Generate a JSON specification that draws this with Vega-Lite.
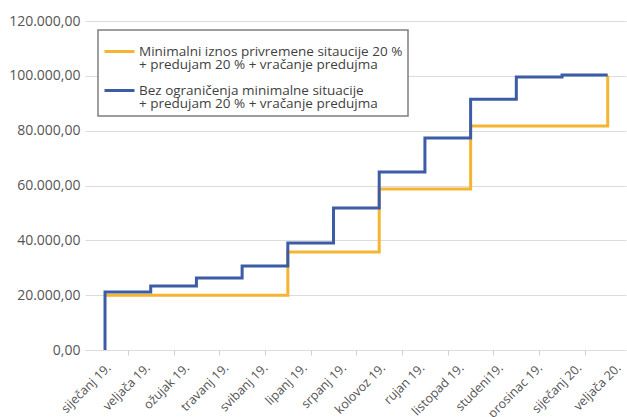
{
  "$schema": "https://vega.github.io/schema/vega-lite/v6.json",
  "width": 541,
  "height": 329,
  "autosize": {"type": "none"},
  "padding": {"left": 85, "top": 21, "right": 1, "bottom": 67},
  "config": {"view": {"stroke": null}, "font": "Open Sans"},
  "datasets": {
    "steps": [
      {"series": "Minimalni iznos privremene sitaucije 20 %|+ predujam 20 % + vračanje predujma", "i": 0, "t": 0, "value": 20000},
      {"series": "Minimalni iznos privremene sitaucije 20 %|+ predujam 20 % + vračanje predujma", "i": 1, "t": 4, "value": 35700},
      {"series": "Minimalni iznos privremene sitaucije 20 %|+ predujam 20 % + vračanje predujma", "i": 2, "t": 6, "value": 58700},
      {"series": "Minimalni iznos privremene sitaucije 20 %|+ predujam 20 % + vračanje predujma", "i": 3, "t": 8, "value": 81700},
      {"series": "Minimalni iznos privremene sitaucije 20 %|+ predujam 20 % + vračanje predujma", "i": 4, "t": 11, "value": 81700},
      {"series": "Minimalni iznos privremene sitaucije 20 %|+ predujam 20 % + vračanje predujma", "i": 5, "t": 11, "value": 100000},
      {"series": "Bez ograničenja minimalne situacije|+ predujam 20 % + vračanje predujma", "i": 0, "t": 0, "value": 0},
      {"series": "Bez ograničenja minimalne situacije|+ predujam 20 % + vračanje predujma", "i": 1, "t": 0, "value": 21200},
      {"series": "Bez ograničenja minimalne situacije|+ predujam 20 % + vračanje predujma", "i": 2, "t": 1, "value": 23300},
      {"series": "Bez ograničenja minimalne situacije|+ predujam 20 % + vračanje predujma", "i": 3, "t": 2, "value": 26300},
      {"series": "Bez ograničenja minimalne situacije|+ predujam 20 % + vračanje predujma", "i": 4, "t": 3, "value": 30600},
      {"series": "Bez ograničenja minimalne situacije|+ predujam 20 % + vračanje predujma", "i": 5, "t": 4, "value": 39000},
      {"series": "Bez ograničenja minimalne situacije|+ predujam 20 % + vračanje predujma", "i": 6, "t": 5, "value": 51800},
      {"series": "Bez ograničenja minimalne situacije|+ predujam 20 % + vračanje predujma", "i": 7, "t": 6, "value": 64900},
      {"series": "Bez ograničenja minimalne situacije|+ predujam 20 % + vračanje predujma", "i": 8, "t": 7, "value": 77300},
      {"series": "Bez ograničenja minimalne situacije|+ predujam 20 % + vračanje predujma", "i": 9, "t": 8, "value": 91500},
      {"series": "Bez ograničenja minimalne situacije|+ predujam 20 % + vračanje predujma", "i": 10, "t": 9, "value": 99600},
      {"series": "Bez ograničenja minimalne situacije|+ predujam 20 % + vračanje predujma", "i": 11, "t": 10, "value": 100300},
      {"series": "Bez ograničenja minimalne situacije|+ predujam 20 % + vračanje predujma", "i": 12, "t": 11, "value": 100300}
    ],
    "months": [
      {"month": "siječanj 19."}, {"month": "veljača 19."}, {"month": "ožujak 19."},
      {"month": "travanj 19."}, {"month": "svibanj 19."}, {"month": "lipanj 19."},
      {"month": "srpanj 19."}, {"month": "kolovoz 19."}, {"month": "rujan 19."},
      {"month": "listopad 19."}, {"month": "studeni19."}, {"month": "prosinac 19."},
      {"month": "siječanj 20."}, {"month": "veljača 20."}
    ]
  },
  "layer": [
    {
      "data": {"name": "steps"},
      "mark": {"type": "line", "interpolate": "step-after", "strokeWidth": 3},
      "encoding": {
        "x": {
          "field": "t", "type": "quantitative",
          "scale": {"domain": [-0.438, 11.4], "nice": false, "zero": false},
          "axis": {"orient": "bottom", "title": null, "values": [0.5, 1.5, 2.5, 3.5, 4.5, 5.5, 6.5, 7.5, 8.5, 9.5, 10.5], "labels": false, "grid": false, "domain": false, "tickColor": "#d0d0d0", "tickSize": 5, "tickWidth": 1}
        },
        "y": {
          "field": "value", "type": "quantitative",
          "scale": {"domain": [0, 120000], "nice": false},
          "axis": {"title": null, "values": [0, 20000, 40000, 60000, 80000, 100000, 120000], "labelExpr": "datum.value == 0 ? '0,00' : format(datum.value/1000, 'd') + '.000,00'", "domain": false, "ticks": false, "labelPadding": 5, "labelFontSize": 14, "labelColor": "#555555", "gridColor": "#dcdcdc", "gridWidth": 1}
        },
        "color": {
          "field": "series", "type": "nominal",
          "scale": {
            "domain": ["Minimalni iznos privremene sitaucije 20 %|+ predujam 20 % + vračanje predujma", "Bez ograničenja minimalne situacije|+ predujam 20 % + vračanje predujma"],
            "range": ["#F6B531", "#3D5CA6"]
          },
          "legend": {
            "orient": "none", "legendX": 13, "legendY": 9, "title": null, "direction": "vertical",
            "strokeColor": "#7f7f7f", "fillColor": "#ffffff", "padding": 5, "rowPadding": 2,
            "symbolType": "stroke", "symbolSize": 900, "symbolStrokeWidth": 3,
            "labelFontSize": 13.5, "labelColor": "#3f3f3f", "labelLimit": 400, "labelOffset": 3,
            "labelExpr": "split(datum.label, '|')",
            "encode": {"labels": {"update": {"lineHeight": {"value": 13.5}}}, "legend": {"update": {"strokeWidth": {"value": 1.5}}}}
          }
        },
        "order": {"field": "i", "type": "quantitative"}
      }
    },
    {
      "data": {"name": "months"},
      "mark": {"type": "point", "opacity": 0},
      "encoding": {
        "x": {
          "field": "month", "type": "ordinal", "sort": null,
          "scale": {"range": [19, 529], "padding": 0},
          "axis": {"orient": "bottom", "title": null, "labelAngle": -45, "ticks": false, "domain": false, "grid": false, "labelPadding": 11, "labelFontSize": 12.5, "labelColor": "#555555"}
        },
        "y": {"datum": 0, "type": "quantitative"}
      }
    }
  ],
  "resolve": {"scale": {"x": "independent"}, "axis": {"x": "independent"}}
}
